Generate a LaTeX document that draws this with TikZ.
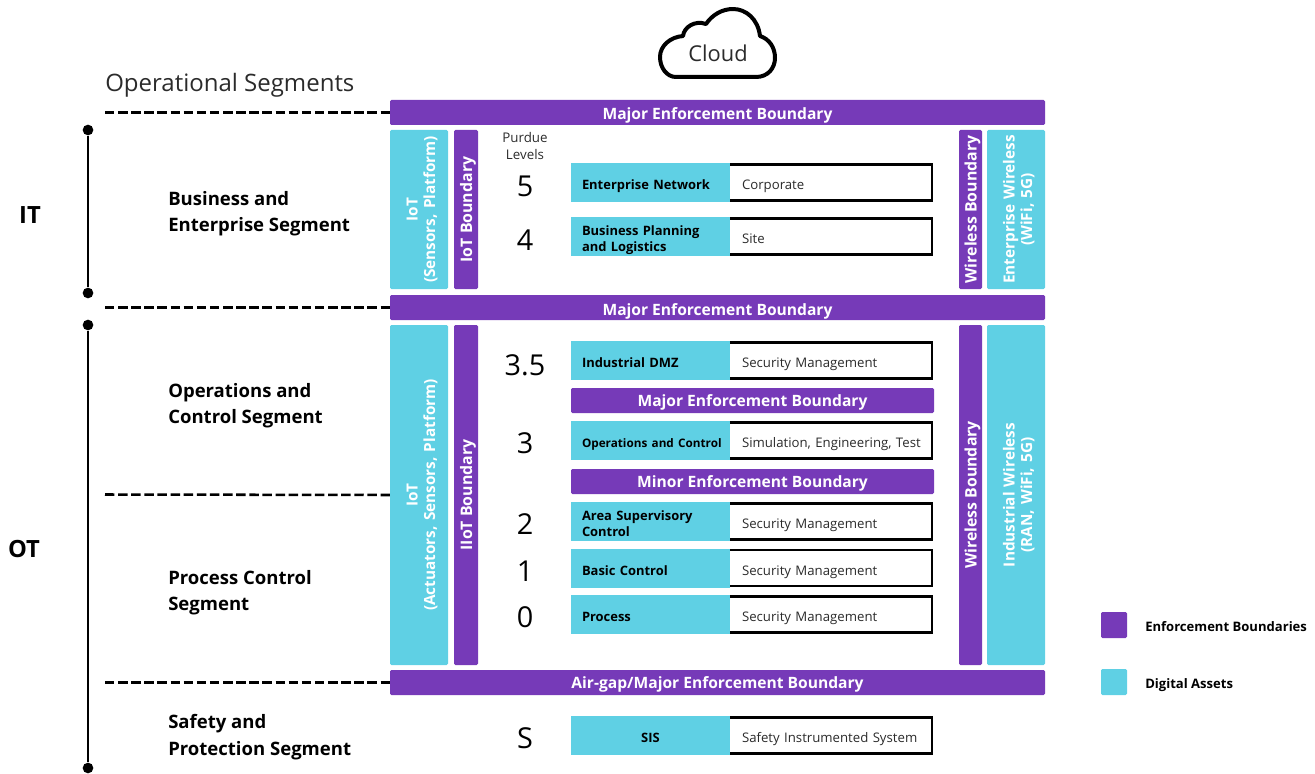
\documentclass[tikz,border=0pt]{standalone}
\usepackage{fontspec}
\setmainfont{Open Sans}
\begin{document}
\begin{tikzpicture}[x=0.75pt,y=-0.75pt,
  sized/.style 2 args={minimum width=#1*0.75pt,minimum height=#2*0.75pt,inner sep=0pt,outer sep=0pt},
  padded/.style 2 args={execute at begin node={\rule{0pt}{#1pt}},execute at end node={\rule[-#2pt]{0pt}{0pt}}},
  purplebox/.style={fill=customcolor1,rounded corners=1pt,text=customcolor3,font=\fontsize{11.7}{13}\selectfont\bfseries,align=center,padded={12}{3}},
  purpleside/.style={purplebox,font=\fontsize{11.9}{13}\selectfont\bfseries,padded={10}{3}},
  cyanbox/.style={fill=customcolor2,rounded corners=1pt,text=customcolor3,font=\fontsize{11.5}{13}\selectfont\bfseries\frenchspacing,align=center,padded={14}{3}},
  levelname/.style={fill=customcolor2,text=customcolor0,font=\fontsize{9.7}{12}\selectfont\bfseries,align=left,text width=137*0.75pt,padded={13.5}{3}},
  levelinfo/.style={draw=customcolor0,line width=2.2pt,fill=customcolor3,text=customcolor4,font=\fontsize{9.9}{12}\selectfont,align=left,text width=175*0.75pt,padded={13.5}{3}},
  levelnum/.style={text=customcolor0,font=\fontsize{21.6}{24}\selectfont,inner sep=0pt},
  segname/.style={anchor=west,text=customcolor0,font=\fontsize{13.9}{19.7}\selectfont\bfseries,align=left,inner sep=0pt},
  sidelabel/.style={text=customcolor0,font=\fontsize{17.8}{20}\selectfont\bfseries,inner sep=0pt},
  dashline/.style={customcolor0,line width=1.9pt,dash pattern=on 7.1pt off 2.74pt},
  spanline/.style={customcolor0,line width=2.2pt},
  spandot/.style={circle,fill=customcolor0,minimum size=8pt,inner sep=0pt}]
\definecolor{customcolor0}{HTML}{000000}
\definecolor{customcolor1}{HTML}{763AB8}
\definecolor{customcolor2}{HTML}{5FD0E4}
\definecolor{customcolor3}{HTML}{FFFFFF}
\definecolor{customcolor4}{HTML}{2B2B2B}
\useasboundingbox (0,0) rectangle (1315,774);
% cloud
\draw[customcolor0,line width=3pt,line join=round,fill=customcolor3] (676,77) -- (756,77) .. controls (768,77) and (775,68) .. (775,58) .. controls (775,47) and (769,39) .. (760,36) .. controls (758,19) and (746,9) .. (733,9) .. controls (722,9) and (712,15) .. (706,24) .. controls (695,20) and (684,27) .. (683,36) .. controls (670,37) and (660,46) .. (660,57) .. controls (660,68) and (667,77) .. (676,77) -- cycle;
\node[text=customcolor4,font=\fontsize{16.4}{18}\selectfont,inner sep=0pt] (cloud) at (718,53) {Cloud};
\node[anchor=west,text=customcolor4,font=\fontsize{18}{20}\selectfont,inner sep=0pt] (opseg) at (105,85) {Operational Segments};
% major bars
\node[purplebox,sized={655}{25},padded={13.5}{3}] (major1) at (717.5,112.5) {Major Enforcement Boundary};
\node[purplebox,sized={655}{25},padded={15}{3}] (major2) at (717.5,307.5) {Major Enforcement Boundary};
\node[purplebox,sized={655}{25}] (major3) at (717.5,682.5) {Air-gap/Major Enforcement Boundary};
% IT side columns
\node[cyanbox,sized={159}{58},rotate=90,text width=155*0.75pt] (iotit) at (419,209.5) {IoT\\(Sensors, Platform)};
\node[purpleside,sized={159}{24},rotate=90] (iotbound) at (466,209.5) {IoT Boundary};
\node[purpleside,sized={159}{23},rotate=90] (wirelessit) at (970.5,209.5) {Wireless Boundary};
\node[cyanbox,sized={159}{58},rotate=90,text width=155*0.75pt] (wirelessnet) at (1016,209.5) {Enterprise Wireless\\(WiFi, 5G)};
% OT side columns
\node[cyanbox,sized={340}{58},rotate=90,text width=300*0.75pt] (iotot) at (419,495) {IoT\\(Actuators, Sensors, Platform)};
\node[purpleside,sized={340}{24},rotate=90] (iiotbound) at (466,495) {IIoT Boundary};
\node[purpleside,sized={340}{23},rotate=90] (wirelessot) at (970.5,495) {Wireless Boundary};
\node[cyanbox,sized={340}{58},rotate=90,text width=300*0.75pt] (wirelessind) at (1016,495) {Industrial Wireless\\(RAN, WiFi, 5G)};
% purdue levels
\node[text=customcolor4,font=\fontsize{10}{12.2}\selectfont,align=center,inner sep=0pt] (purdue) at (525,146) {Purdue\\Levels};
\node[levelnum] (num5) at (525,186) {5};
\node[levelnum] (num4) at (525,240) {4};
\node[levelnum] (num35) at (525,365) {3.5};
\node[levelnum] (num3) at (525,443) {3};
\node[levelnum] (num2) at (525,524) {2};
\node[levelnum] (num1) at (525,571) {1};
\node[levelnum] (num0) at (525,617) {0};
\node[levelnum] (numS) at (525,738) {S};
% level rows
\node[levelinfo,sized={205}{36}] (info5) at (829.5,182.5) {Corporate};
\node[levelname,sized={159}{39}] (name5) at (650.5,182.5) {Enterprise Network};
\node[levelinfo,sized={205}{36}] (info4) at (829.5,236.5) {Site};
\node[levelname,sized={159}{39},padded={11}{3}] (name4) at (650.5,236.5) {Business Planning\\and Logistics};
\node[levelinfo,sized={205}{36}] (info35) at (829.5,360.5) {Security Management};
\node[levelname,sized={159}{39}] (name35) at (650.5,360.5) {Industrial DMZ};
\node[purplebox,sized={363}{25}] (majorin) at (752.5,400.5) {Major Enforcement Boundary};
\node[levelinfo,sized={205}{36}] (info3) at (829.5,440.5) {\mbox{Simulation, Engineering, Test}};
\node[levelname,sized={159}{39}] (name3) at (650.5,440.5) {\mbox{\fontsize{8.8}{12}\selectfont Operations and Control}};
\node[purplebox,sized={363}{25}] (minorin) at (752.5,481.5) {Minor Enforcement Boundary};
\node[levelinfo,sized={205}{36}] (info2) at (829.5,521.5) {Security Management};
\node[levelname,sized={159}{39}] (name2) at (650.5,521.5) {Area Supervisory\\Control};
\node[levelinfo,sized={205}{36}] (info1) at (829.5,568) {Security Management};
\node[levelname,sized={159}{39}] (name1) at (650.5,568) {Basic Control};
\node[levelinfo,sized={205}{36}] (info0) at (829.5,614.5) {Security Management};
\node[levelname,sized={159}{39}] (name0) at (650.5,614.5) {Process};
\node[levelinfo,sized={205}{36}] (infoS) at (829.5,735.5) {\mbox{Safety Instrumented System}};
\node[levelname,sized={159}{39},align=center] (nameS) at (650.5,735.5) {SIS};
% segments
\node[segname] (seg1) at (168,214) {Business and\\Enterprise Segment};
\node[segname] (seg2) at (168,406) {Operations and\\Control Segment};
\node[segname] (seg3) at (168,593) {Process Control\\Segment};
\node[segname] (seg4) at (168,737) {Safety and\\Protection Segment};
\node[sidelabel] (itlabel) at (30,215) {IT};
\node[sidelabel] (otlabel) at (24,549) {OT};
% dashed lines
\coordinate (dash1) at (105,112.5);
\coordinate (dash2) at (105,307.5);
\coordinate (dash3) at (105,494.5);
\coordinate (dash4) at (105,682.5);
\draw[dashline] (dash1) -- (major1.west);
\draw[dashline] (dash2) -- (major2.west);
\draw[dashline] (dash3) -- (iotot.north);
\draw[dashline] (dash4) -- (major3.west);
% spans
\node[spandot] (ittop) at (88,130) {};
\node[spandot] (itbot) at (88,293) {};
\node[spandot] (ottop) at (88,325) {};
\node[spandot] (otbot) at (88,768) {};
\draw[spanline] (ittop) -- (itbot);
\draw[spanline] (ottop) -- (otbot);
% legend
\node[purplebox,sized={26}{26}] (keyenf) at (1114,625) {};
\node[cyanbox,sized={26}{26}] (keydig) at (1114,682) {};
\node[anchor=west,text=customcolor0,font=\fontsize{9.8}{12}\selectfont\bfseries,inner sep=0pt] (keyenftext) at (1145,627) {Enforcement Boundaries};
\node[anchor=west,text=customcolor0,font=\fontsize{9.8}{12}\selectfont\bfseries,inner sep=0pt] (keydigtext) at (1145,685) {Digital Assets};
\end{tikzpicture}
\end{document}
